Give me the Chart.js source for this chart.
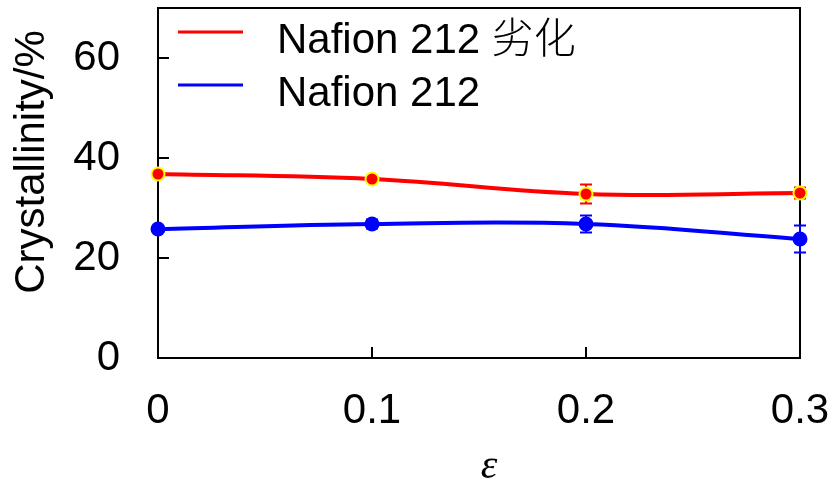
<!DOCTYPE html>
<html>
<head>
<meta charset="utf-8">
<script src="https://cdn.jsdelivr.net/npm/chart.js@4"></script>
<style>
  html, body { margin: 0; padding: 0; background: #fff; }
  #wrap { width: 834px; height: 481px; }
</style>
</head>
<body>
<div id="wrap"><canvas id="cryst"></canvas></div>
<script>
// strain values and crystallinity (%)
var strain = [0, 0.1, 0.2, 0.3];
var degraded = [36.8, 35.8, 32.8, 33.0];
var degradedErr = [0, 0.3, 1.9, 1.1];
var fresh = [25.8, 26.8, 26.8, 23.8];
var freshErr = [0.3, 0.9, 1.7, 2.7];
var xTicks = [0, 0.1, 0.2, 0.3];
var yTicks = [0, 20, 40, 60];
var labels = ["Nafion 212 劣化", "Nafion 212"];

var FONT = '"Liberation Sans", Arial, "Noto Sans CJK SC", sans-serif';

function pts(ys) {
    return strain.map(function(x, i) { return { x: x, y: ys[i] }; });
}

// frame, inward ticks and error bars under the lines
var decor = {
    id: "decor",
    beforeDatasetsDraw: function(chart) {
        var ctx = chart.ctx, a = chart.chartArea;
        var xs = chart.scales.x, ys = chart.scales.y;
        ctx.save();
        ctx.strokeStyle = "#000";
        ctx.lineWidth = 2;
        ctx.strokeRect(a.left, a.top, a.right - a.left, a.bottom - a.top);
        ctx.beginPath();
        yTicks.forEach(function(v) {
            var py = ys.getPixelForValue(v);
            ctx.moveTo(a.left, py); ctx.lineTo(a.left + 11, py);
        });
        xTicks.forEach(function(v) {
            var px = xs.getPixelForValue(v);
            ctx.moveTo(px, a.bottom); ctx.lineTo(px, a.bottom - 11);
        });
        ctx.stroke();

        [[degraded, degradedErr, "#ff0000"], [fresh, freshErr, "#0000ff"]].forEach(function(s) {
            ctx.strokeStyle = s[2];
            ctx.lineWidth = 2;
            ctx.beginPath();
            strain.forEach(function(x, i) {
                if (!s[1][i]) return;
                var px = xs.getPixelForValue(x);
                var hi = ys.getPixelForValue(s[0][i] + s[1][i]);
                var lo = ys.getPixelForValue(s[0][i] - s[1][i]);
                ctx.moveTo(px, hi); ctx.lineTo(px, lo);
                ctx.moveTo(px - 6, hi); ctx.lineTo(px + 6, hi);
                ctx.moveTo(px - 6, lo); ctx.lineTo(px + 6, lo);
            });
            ctx.stroke();
        });
        ctx.restore();
    },
    afterDraw: function(chart) {
        var ctx = chart.ctx;
        ctx.save();
        // legend
        var rows = [[labels[0], "#ff0000", 32], [labels[1], "#0000ff", 85]];
        ctx.font = "300 42px " + FONT;
        ctx.textBaseline = "middle";
        ctx.fillStyle = "#000";
        rows.forEach(function(r) {
            ctx.strokeStyle = r[1];
            ctx.lineWidth = 3;
            ctx.beginPath();
            ctx.moveTo(178, r[2]); ctx.lineTo(243, r[2]);
            ctx.stroke();
            ctx.fillText(r[0], 277, r[2] + 9);
        });
        // axis titles
        ctx.font = "42px " + FONT;
        ctx.save();
        ctx.translate(32, 162);
        ctx.rotate(-Math.PI / 2);
        ctx.textAlign = "center";
        ctx.fillText("Crystallinity/%", 0, 0);
        ctx.restore();
        ctx.font = "italic 42px \"Liberation Serif\", serif";
        ctx.textAlign = "center";
        ctx.textBaseline = "alphabetic";
        ctx.fillText("ε", 489, 478);
        ctx.restore();
    }
};

new Chart(document.getElementById("cryst"), {
    type: "line",
    data: {
        datasets: [
            {
                label: labels[0],
                data: pts(degraded),
                borderColor: "#ff0000",
                backgroundColor: "#ff0000",
                pointBackgroundColor: "#ff0000",
                pointBorderColor: "#ffff00",
                pointBorderWidth: 2,
                pointRadius: 6.5,
                borderWidth: 4,
                tension: 0.4,
                clip: false
            },
            {
                label: labels[1],
                data: pts(fresh),
                borderColor: "#0000ff",
                backgroundColor: "#0000ff",
                pointBackgroundColor: "#0000ff",
                pointBorderWidth: 0,
                pointRadius: 7.5,
                borderWidth: 4,
                tension: 0.4,
                clip: false
            }
        ]
    },
    options: {
        responsive: true,
        maintainAspectRatio: false,
        animation: false,
        layout: { autoPadding: false, padding: { left: 0, right: 34, top: 8, bottom: 0 } },
        plugins: {
            legend: { display: false },
            tooltip: { enabled: false }
        },
        scales: {
            x: {
                type: "linear",
                min: 0,
                max: 0.3,
                grid: { display: false, drawTicks: false },
                border: { display: false },
                afterBuildTicks: function(s) { s.ticks = xTicks.map(function(v) { return { value: v }; }); },
                afterFit: function(s) {
                    s.height = 123;
                    s.paddingLeft = s.paddingRight = s.paddingTop = s.paddingBottom = 0;
                },
                ticks: {
                    padding: 28,
                    maxRotation: 0,
                    color: "#000",
                    font: { family: FONT, size: 42 },
                    callback: function(v) { return String(v); }
                }
            },
            y: {
                min: 0,
                max: 70,
                grid: { display: false, drawTicks: false },
                border: { display: false },
                afterBuildTicks: function(s) { s.ticks = yTicks.map(function(v) { return { value: v }; }); },
                afterFit: function(s) {
                    s.width = 158;
                    s.paddingLeft = s.paddingRight = s.paddingTop = s.paddingBottom = 0;
                },
                ticks: {
                    padding: 38,
                    color: "#000",
                    font: { family: FONT, size: 42 }
                }
            }
        }
    },
    plugins: [decor]
});
</script>
</body>
</html>
